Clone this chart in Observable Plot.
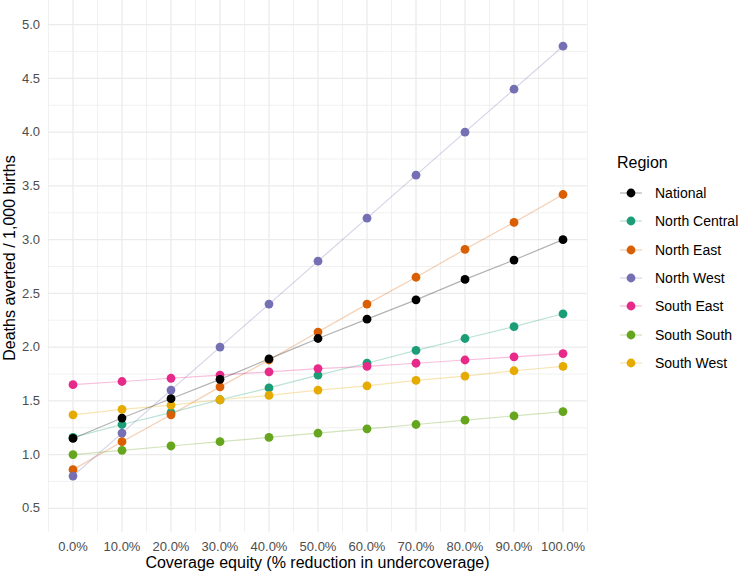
<!DOCTYPE html>
<html>
<head>
<meta charset="utf-8">
<script src="https://cdn.jsdelivr.net/npm/d3@7"></script>
<script src="https://cdn.jsdelivr.net/npm/@observablehq/plot@0.6"></script>
<style>
  body { margin: 0; background: #fff; font-family: "Liberation Sans", Arial, Helvetica, sans-serif; }
  #wrap { position: relative; width: 740px; height: 573px; overflow: hidden; }
  #wrap svg.plot { position: absolute; left: 0; top: 0; }
  .xtitle { position: absolute; left: 48px; width: 539px; top: 554.5px; text-align: center; font-size: 16px; line-height: 16px; color: #000; white-space: nowrap; }
  .ytitle { position: absolute; left: -140px; top: 250px; width: 300px; text-align: center; font-size: 16px; line-height: 16px; color: #000; transform: rotate(-90deg); white-space: nowrap; }
  #legend { position: absolute; left: 617px; top: 152px; }
  #legend .lt { font-size: 16px; line-height: 22px; color: #000; margin-bottom: 7px; margin-top: 0px; }
  #legend .row { position: absolute; left: 0; height: 20px; display: flex; align-items: center; font-size: 14px; color: #000; white-space: nowrap; }
  #legend .row svg { margin-left: 2px; margin-right: 12px; }
</style>
</head>
<body>
<div id="wrap"></div>
<script>
// ---- data ----
const coverage = [0, 0.1, 0.2, 0.3, 0.4, 0.5, 0.6, 0.7, 0.8, 0.9, 1.0];
const regions = ["National", "North Central", "North East", "North West", "South East", "South South", "South West"];
const colors = ["#000000", "#1B9E77", "#D95F02", "#7570B3", "#E7298A", "#66A61E", "#E6AB02"];

const national     = [1.15, 1.34, 1.52, 1.70, 1.89, 2.08, 2.26, 2.44, 2.63, 2.81, 3.00];
const northCentral = [1.16, 1.28, 1.39, 1.51, 1.62, 1.74, 1.85, 1.97, 2.08, 2.19, 2.31];
const northEast    = [0.86, 1.12, 1.37, 1.63, 1.88, 2.14, 2.40, 2.65, 2.91, 3.16, 3.42];
const northWest    = [0.80, 1.20, 1.60, 2.00, 2.40, 2.80, 3.20, 3.60, 4.00, 4.40, 4.80];
const southEast    = [1.65, 1.68, 1.71, 1.74, 1.77, 1.80, 1.82, 1.85, 1.88, 1.91, 1.94];
const southSouth   = [1.00, 1.04, 1.08, 1.12, 1.16, 1.20, 1.24, 1.28, 1.32, 1.36, 1.40];
const southWest    = [1.37, 1.42, 1.46, 1.51, 1.55, 1.60, 1.64, 1.69, 1.73, 1.78, 1.82];

const xTicks = [0, 0.1, 0.2, 0.3, 0.4, 0.5, 0.6, 0.7, 0.8, 0.9, 1.0];
const xMinor = [-0.05, 0.05, 0.15, 0.25, 0.35, 0.45, 0.55, 0.65, 0.75, 0.85, 0.95, 1.05];
const yTicks = [0.5, 1.0, 1.5, 2.0, 2.5, 3.0, 3.5, 4.0, 4.5, 5.0];
const yMinor = [0.75, 1.25, 1.75, 2.25, 2.75, 3.25, 3.75, 4.25, 4.75];

const seriesValues = [national, northCentral, northEast, northWest, southEast, southSouth, southWest];

// table for the library
const rows = [];
regions.forEach((r, i) => {
  seriesValues[i].forEach((v, j) => rows.push({ region: r, order: i, x: coverage[j], y: v }));
});
// national drawn last, on top
const others = rows.filter(d => d.region !== "National");
const nat = rows.filter(d => d.region === "National");

const W = 740, H = 573;
const plot = Plot.plot({
  width: W, height: H,
  marginLeft: 48, marginRight: 153, marginTop: 0, marginBottom: 41,
  x: { domain: [-0.05, 1.05] },
  y: { domain: [0.275, 5.225] },
  color: { domain: regions, range: colors },
  style: { fontFamily: '"Liberation Sans", Arial, Helvetica, sans-serif', background: "#fff" },
  marks: [
    Plot.ruleX(xMinor, { stroke: "#EBEBEB", strokeWidth: 0.7 }),
    Plot.ruleY(yMinor, { stroke: "#EBEBEB", strokeWidth: 0.7 }),
    Plot.ruleX(xTicks, { stroke: "#EBEBEB", strokeWidth: 1.3 }),
    Plot.ruleY(yTicks, { stroke: "#EBEBEB", strokeWidth: 1.3 }),
    Plot.axisX({ ticks: xTicks, tickFormat: d => (d * 100).toFixed(1) + "%", tickSize: 0, tickPadding: 9, fontSize: 13, fill: "#4D4D4D", label: null }),
    Plot.axisY({ ticks: yTicks, tickFormat: d3.format(".1f"), tickSize: 0, tickPadding: 8.5, fontSize: 13, fill: "#4D4D4D", label: null }),
    Plot.line(others, { x: "x", y: "y", z: "region", stroke: "region", strokeOpacity: 0.3, strokeWidth: 1.2 }),
    Plot.line(nat, { x: "x", y: "y", z: "region", stroke: "region", strokeOpacity: 0.3, strokeWidth: 1.2 }),
    Plot.dot(others, { x: "x", y: "y", fill: "region", r: 4.4 }),
    Plot.dot(nat, { x: "x", y: "y", fill: "region", r: 4.4 })
  ]
});
plot.classList.add("plot");
const wrap = document.getElementById("wrap");
wrap.appendChild(plot);

const xt = document.createElement("div");
xt.className = "xtitle";
xt.textContent = "Coverage equity (% reduction in undercoverage)";
wrap.appendChild(xt);

const yt = document.createElement("div");
yt.className = "ytitle";
yt.textContent = "Deaths averted / 1,000 births";
wrap.appendChild(yt);

// legend
const leg = document.createElement("div");
leg.id = "legend";
const lt = document.createElement("div");
lt.className = "lt";
lt.textContent = "Region";
leg.appendChild(lt);
regions.forEach((r, i) => {
  const row = document.createElement("div");
  row.className = "row";
  row.style.top = (30.7 + i * 28.4) + "px";
  const ns = "http://www.w3.org/2000/svg";
  const s = document.createElementNS(ns, "svg");
  s.setAttribute("width", 24); s.setAttribute("height", 20);
  const ln = document.createElementNS(ns, "line");
  ln.setAttribute("x1", 1); ln.setAttribute("x2", 23); ln.setAttribute("y1", 10); ln.setAttribute("y2", 10);
  ln.setAttribute("stroke", colors[i]); ln.setAttribute("stroke-opacity", 0.3); ln.setAttribute("stroke-width", 1.2);
  const c = document.createElementNS(ns, "circle");
  c.setAttribute("cx", 12); c.setAttribute("cy", 10); c.setAttribute("r", 4.4);
  c.setAttribute("fill", colors[i]);
  s.appendChild(ln); s.appendChild(c);
  row.appendChild(s);
  const t = document.createElement("span");
  t.textContent = r;
  row.appendChild(t);
  leg.appendChild(row);
});
wrap.appendChild(leg);
</script>
</body>
</html>
